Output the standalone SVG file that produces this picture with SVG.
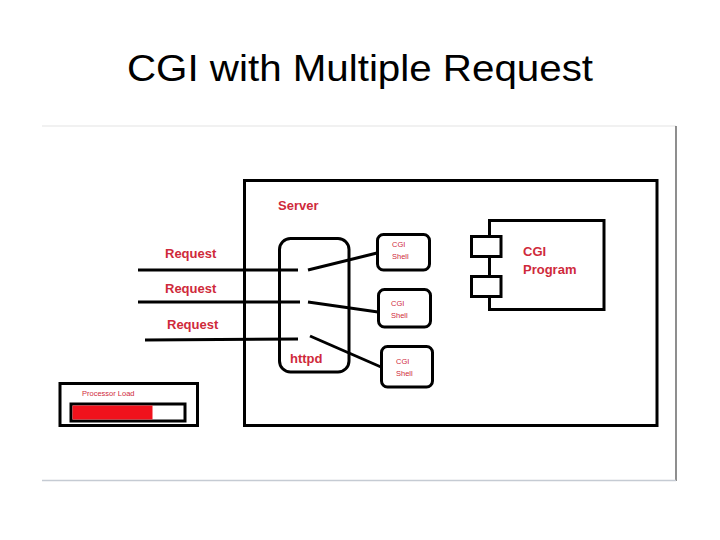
<svg xmlns="http://www.w3.org/2000/svg" width="720" height="540" viewBox="0 0 720 540">
<style>
.box{fill:#fff;stroke:#000;stroke-width:3}
.ln{stroke:#000;stroke-width:3;fill:none;stroke-linecap:butt}
.lbl{font-family:"Liberation Sans",Arial,sans-serif;font-weight:bold;fill:#cf2a3b}
.sm{font-family:"Liberation Sans",Arial,sans-serif;fill:#cf2a3b;font-size:7.5px}
</style>
<rect width="720" height="540" fill="#fff"/>
<text x="360" y="81" text-anchor="middle" font-family="'Liberation Sans',Arial,sans-serif" font-size="36" textLength="466" lengthAdjust="spacingAndGlyphs" fill="#000">CGI with Multiple Request</text>
<g id="frame">
<line x1="42" y1="126" x2="676" y2="126" stroke="#ececec" stroke-width="1.5"/>
<line x1="676" y1="126" x2="676" y2="481" stroke="#444" stroke-width="1.2"/>
<line x1="42" y1="480.5" x2="676" y2="480.5" stroke="#c5cbd3" stroke-width="1.5"/>
</g>
<g id="server">
<rect class="box" x="244.5" y="180.5" width="412.5" height="245"/>
<text class="lbl" x="278" y="210" font-size="13">Server</text>
</g>
<g id="httpd">
<rect class="box" x="279.5" y="238.5" width="69.5" height="133.5" rx="11"/>
<text class="lbl" x="290" y="363" font-size="13">httpd</text>
</g>
<g id="shell1">
<rect class="box" x="377.5" y="234.5" width="52" height="35.5" rx="6"/>
<text class="sm" x="392" y="247">CGI</text>
<text class="sm" x="392" y="259">Shell</text>
</g>
<g id="shell2">
<rect class="box" x="378.5" y="289.5" width="52" height="37.5" rx="6"/>
<text class="sm" x="391" y="306">CGI</text>
<text class="sm" x="391" y="318">Shell</text>
</g>
<g id="shell3">
<rect class="box" x="381.5" y="346.5" width="51" height="40.5" rx="6"/>
<text class="sm" x="396" y="364">CGI</text>
<text class="sm" x="396" y="376">Shell</text>
</g>
<g id="cgiprogram">
<rect class="box" x="489.5" y="220.5" width="114.5" height="89"/>
<rect class="box" x="471.5" y="236.5" width="29.5" height="20"/>
<rect class="box" x="471.5" y="276.5" width="29.5" height="20"/>
<text class="lbl" x="523" y="256" font-size="13">CGI</text>
<text class="lbl" x="523" y="274" font-size="13">Program</text>
</g>
<g id="processor">
<rect class="box" x="60" y="383.5" width="137.5" height="42"/>
<rect x="71" y="404" width="114" height="17" fill="#fff" stroke="#000" stroke-width="3"/>
<rect x="72.5" y="405.5" width="80" height="14" fill="#f0121c"/>
<text class="sm" x="82" y="396">Processor Load</text>
</g>
<g id="connectors">
<polyline class="ln" points="138,270 298,270"/>
<polyline class="ln" points="308,270 377,253"/>
<polyline class="ln" points="138,302 300,302"/>
<polyline class="ln" points="308,302 378,312"/>
<polyline class="ln" points="145,340 298,339"/>
<polyline class="ln" points="310,336 381,367"/>
</g>
<g id="labels">
<text class="lbl" x="165" y="258" font-size="13">Request</text>
<text class="lbl" x="165" y="293" font-size="13">Request</text>
<text class="lbl" x="167" y="329" font-size="13">Request</text>
</g>
</svg>
